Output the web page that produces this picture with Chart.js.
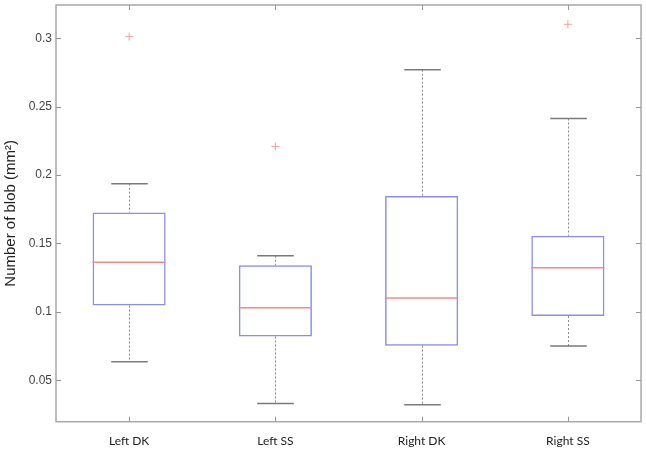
<!DOCTYPE html>
<html>
<head>
<meta charset="utf-8">
<script src="https://cdn.jsdelivr.net/npm/chart.js@4.4.1/dist/chart.umd.min.js"></script>
<style>
html,body{margin:0;padding:0;background:#fff;}
#wrap{width:646px;height:450px;position:relative;}
</style>
</head>
<body>
<div id="wrap"><canvas id="c" width="646" height="450"></canvas></div>
<script>
const categories = ['Left DK', 'Left SS', 'Right DK', 'Right SS'];
const lowerWhisker = [0.0636, 0.033, 0.032, 0.075];
const q1 = [0.1046, 0.082, 0.0753, 0.0969];
const median = [0.1362, 0.103, 0.1102, 0.1323];
const q3 = [0.1726, 0.134, 0.1847, 0.1556];
const upperWhisker = [0.1937, 0.141, 0.277, 0.2413];
const outliers = [[0.3012], [0.2209], [], [0.3102]];
const yTicks = [0.05, 0.1, 0.15, 0.2, 0.25, 0.3];
const yMin = 0.0197, yMax = 0.3243;

const outlierPoints = [];
outliers.forEach((arr, i) => arr.forEach(v => outlierPoints.push({x: categories[i], y: v})));

const frameColor = '#a8a8a8';

const boxPlugin = {
  id: 'boxExtras',
  beforeDatasetsDraw(chart) {
    const {ctx, chartArea: a, scales} = chart;
    ctx.save();
    ctx.strokeStyle = frameColor;
    ctx.lineWidth = 1.5;
    ctx.strokeRect(a.left, a.top, a.right - a.left, a.bottom - a.top);
    ctx.lineWidth = 1;
    ctx.strokeStyle = '#999';
    const tl = 5;
    scales.y.ticks.forEach(t => {
      const y = Math.round(scales.y.getPixelForValue(t.value)) + 0.5;
      ctx.beginPath();
      ctx.moveTo(a.left, y); ctx.lineTo(a.left + tl, y);
      ctx.moveTo(a.right, y); ctx.lineTo(a.right - tl, y);
      ctx.stroke();
    });
    scales.x.ticks.forEach((t, i) => {
      const x = Math.round(scales.x.getPixelForValue(i)) + 0.5;
      ctx.beginPath();
      ctx.moveTo(x, a.bottom); ctx.lineTo(x, a.bottom - tl);
      ctx.moveTo(x, a.top); ctx.lineTo(x, a.top + tl);
      ctx.stroke();
    });
    // whiskers
    const meta = chart.getDatasetMeta(0);
    categories.forEach((c, i) => {
      const el = meta.data[i];
      const x = Math.round(scales.x.getPixelForValue(i)) + 0.5;
      const capW = el.width / 2;
      const yLo = scales.y.getPixelForValue(lowerWhisker[i]);
      const yQ1 = scales.y.getPixelForValue(q1[i]);
      const yQ3 = scales.y.getPixelForValue(q3[i]);
      const yHi = scales.y.getPixelForValue(upperWhisker[i]);
      ctx.strokeStyle = '#8a8a8a';
      ctx.lineWidth = 1;
      ctx.setLineDash([2, 2]);
      ctx.beginPath();
      ctx.moveTo(x, yHi); ctx.lineTo(x, yQ3);
      ctx.moveTo(x, yQ1); ctx.lineTo(x, yLo);
      ctx.stroke();
      ctx.setLineDash([]);
      ctx.strokeStyle = '#7a7a7a';
      ctx.lineWidth = 1.5;
      ctx.beginPath();
      ctx.moveTo(x - capW / 2, yHi); ctx.lineTo(x + capW / 2, yHi);
      ctx.moveTo(x - capW / 2, yLo); ctx.lineTo(x + capW / 2, yLo);
      ctx.stroke();
    });
    ctx.restore();
  },
  afterDatasetsDraw(chart) {
    const {ctx, scales} = chart;
    const meta = chart.getDatasetMeta(0);
    ctx.save();
    ctx.strokeStyle = '#f08a8a';
    ctx.lineWidth = 1.5;
    categories.forEach((c, i) => {
      const el = meta.data[i];
      const x = scales.x.getPixelForValue(i);
      const y = scales.y.getPixelForValue(median[i]);
      ctx.beginPath();
      ctx.moveTo(x - el.width / 2, y); ctx.lineTo(x + el.width / 2, y);
      ctx.stroke();
    });
    ctx.restore();
  }
};

new Chart(document.getElementById('c'), {
  type: 'bar',
  data: {
    labels: categories,
    datasets: [
      {
        type: 'bar',
        data: categories.map((c, i) => [q1[i], q3[i]]),
        backgroundColor: 'rgba(0,0,0,0)',
        borderColor: '#8c8cf0',
        borderWidth: 1.5,
        borderSkipped: false,
        barPercentage: 0.5,
        categoryPercentage: 1.0,
        order: 2
      },
      {
        type: 'scatter',
        data: outlierPoints,
        pointStyle: 'cross',
        radius: 4,
        borderColor: '#f5a0a0',
        borderWidth: 1,
        backgroundColor: '#f5a0a0',
        order: 1
      }
    ]
  },
  options: {
    responsive: false,
    animation: false,
    devicePixelRatio: 1,
    layout: {padding: {top: 3, right: 4, left: 0, bottom: 0}},
    plugins: {legend: {display: false}, tooltip: {enabled: false}},
    scales: {
      x: {
        type: 'category',
        offset: true,
        grid: {display: false, drawTicks: false},
        border: {display: false},
        ticks: {
          padding: 12,
          color: '#222',
          font: {family: 'Lato', size: 12}
        },
        afterFit(s) { s.height = 28.3; s.paddingLeft = 0; s.paddingRight = 0; }
      },
      y: {
        type: 'linear',
        min: yMin,
        max: yMax,
        grid: {display: false, drawTicks: false},
        border: {display: false},
        afterBuildTicks(s) { s.ticks = yTicks.map(v => ({value: v})); },
        ticks: {
          padding: 4,
          color: '#444',
          font: {family: 'Liberation Sans', size: 12},
          callback: v => String(+v.toFixed(3))
        },
        title: {
          display: true,
          text: 'Number of blob (mm²)',
          color: '#222',
          font: {family: 'Liberation Sans', size: 15},
          padding: {top: 2, bottom: 0}
        },
        afterFit(s) { s.width = 56; s.paddingTop = 0; s.paddingBottom = 0; }
      }
    }
  },
  plugins: [boxPlugin]
});
</script>
</body>
</html>
